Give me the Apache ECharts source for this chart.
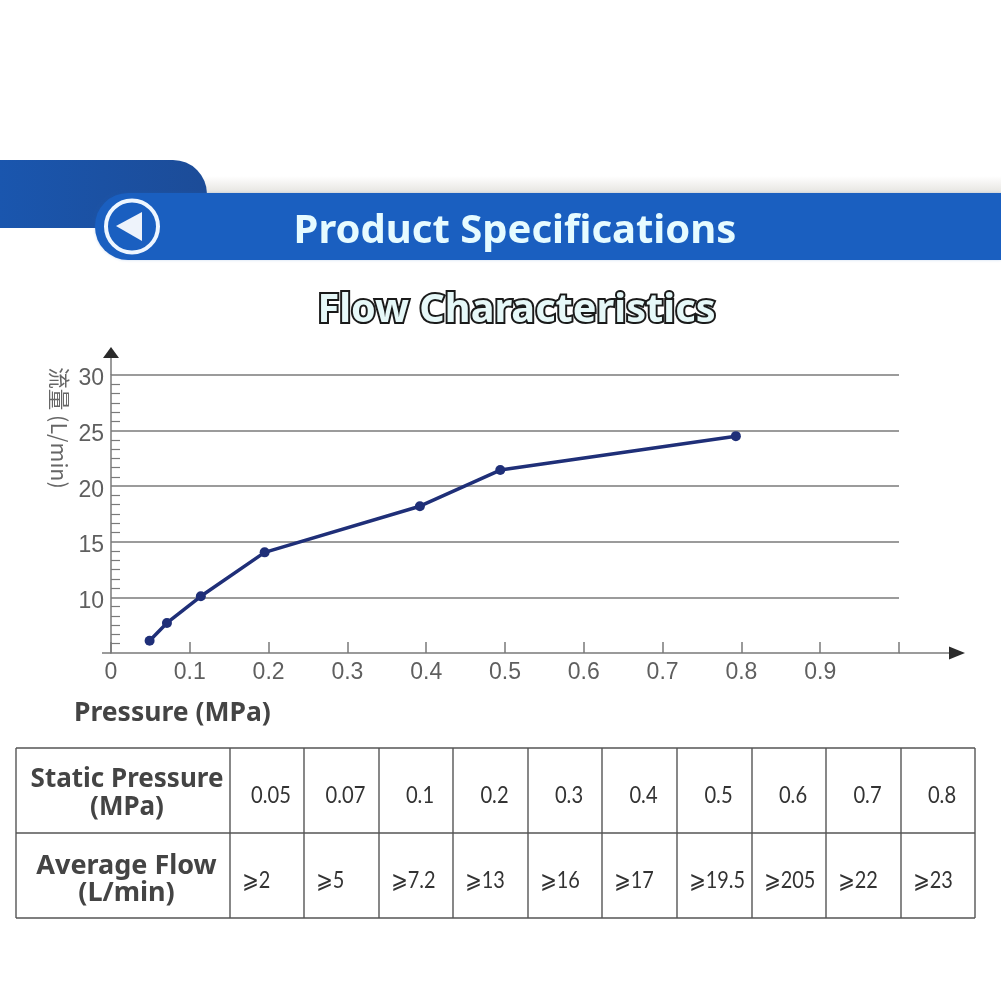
<!DOCTYPE html>
<html><head><meta charset="utf-8">
<style>html,body{margin:0;padding:0;background:#fff}#c{width:1001px;height:1001px}</style>
<script src="https://cdn.jsdelivr.net/npm/echarts@6/dist/echarts.min.js"></script>
</head><body><div id="c"></div>
<script>
const pressure = [0.049, 0.071, 0.114, 0.195, 0.392, 0.494, 0.793];
const flow = [6.1, 7.7, 10.1, 14.05, 18.2, 21.45, 24.5];
const xTickLabels = ['0','0.1','0.2','0.3','0.4','0.5','0.6','0.7','0.8','0.9',''];
const yTickLabels = ['','10','15','20','25','30'];
const staticPressure = ['0.05','0.07','0.1','0.2','0.3','0.4','0.5','0.6','0.7','0.8'];
const averageFlow = ['⩾2','⩾5','⩾7.2','⩾13','⩾16','⩾17','⩾19.5','⩾205','⩾22','⩾23'];
const rowTitles = [['Static Pressure','(MPa)'],['Average Flow','(L/min)']];

const BOLD = '"Noto Sans",sans-serif', CELL = 'Lato,"DejaVu Sans",sans-serif';
const gridC = '#7a7a7a', inkC = '#444', tblC = '#555';
const colX = [16,230,304,379,453,528,602,677,752,826,901,975], rowY = [748,833,918];
const g = [];
const line = (x1,y1,x2,y2,stroke,lineWidth)=>g.push({type:'line',shape:{x1,y1,x2,y2},style:{stroke,lineWidth}});
const txt = (x,y,text,font,fill,align='center',extra={},node={})=>g.push({type:'text',x,y,...node,style:{text,font,fill,align,verticalAlign:'middle',...extra}});

// banner
g.push({type:'rect',shape:{x:200,y:176,width:801,height:17},style:{fill:{type:'linear',x:0,y:0,x2:0,y2:1,colorStops:[{offset:0,color:'#ffffff'},{offset:1,color:'#e6e4e0'}]}}});
g.push({type:'rect',shape:{x:0,y:160,width:207,height:68,r:[0,34,0,0]},style:{fill:{type:'linear',x:0,y:0,x2:1,y2:0,colorStops:[{offset:0,color:'#1a56ae'},{offset:1,color:'#1c4c98'}]}}});
g.push({type:'rect',shape:{x:95,y:193,width:906,height:67,r:[33,0,0,33]},style:{fill:'#1a5fc0',shadowBlur:3,shadowColor:'rgba(26,95,192,0.25)'}});
g.push({type:'circle',shape:{cx:132,cy:226.5,r:26},style:{fill:'none',stroke:'#eef6ff',lineWidth:4}});
g.push({type:'polygon',shape:{points:[[116,226],[142,212],[142,241]]},style:{fill:'#eef3fb'}});
txt(515,232,'Product Specifications','700 40px '+BOLD,'#e6fbff');
txt(516.5,311,'Flow Characteristics','700 39.7px '+BOLD,'#e6f8f8','center',{stroke:'#1a1a1a',lineWidth:4,lineJoin:'round'});

// axis arrows and names
line(111,375,111,355,gridC,1.5);
g.push({type:'polygon',shape:{points:[[111,347],[103,358],[119,358]]},style:{fill:'#2a2a2a'}});
line(899,653,950,653,gridC,1.5);
line(102,653,111,653,gridC,1.5);
g.push({type:'polygon',shape:{points:[[965,653],[949,646.5],[949,659.5]]},style:{fill:'#2a2a2a'}});
g.push({type:'text',x:59,y:428,rotation:-Math.PI/2,style:{text:'流量 (L/min)',font:'400 21.5px "Noto Sans CJK SC",sans-serif',fill:'#666',align:'center',verticalAlign:'middle'}});
txt(74,713,'Pressure (MPa)','700 26.5px '+BOLD,inkC,'left');

// table
rowY.forEach(y=>line(colX[0],y,colX[colX.length-1],y,tblC,1.4));
colX.forEach(x=>line(x,rowY[0],x,rowY[2],tblC,1.4));
rowTitles.forEach((r,i)=>r.forEach((t,j)=>txt(i?126.5:127,[[780,808],[866,893]][i][j],t,'700 '+(i?27:26)+'px '+BOLD,inkC)));
staticPressure.forEach((t,i)=>txt((colX[i+1]+colX[i+2])/2+4,795,t,'400 24px '+CELL,'#333','center',{},{scaleX:.84}));
averageFlow.forEach((t,i)=>txt(colX[i+1]+12,880,t,'400 24px '+CELL,'#333','left',{},{scaleX:.83}));

const chart = echarts.init(document.getElementById('c'),null,{renderer:'canvas',width:1001,height:1001});
chart.setOption({
  animation:false,
  backgroundColor:'#fff',
  grid:{left:111,top:375,width:788,height:278,containLabel:false},
  xAxis:{type:'value',min:0,max:1,interval:0.1,
    axisLine:{lineStyle:{color:gridC,width:1.5}},
    axisTick:{inside:true,length:11,lineStyle:{color:gridC,width:1.5}},
    splitLine:{show:false},
    axisLabel:{margin:8,color:'#5f5f5f',fontFamily:'Liberation Sans',fontSize:23,
      formatter:(v)=>xTickLabels[Math.round(v*10)]}},
  yAxis:{type:'value',min:5,max:30,interval:5,
    axisLine:{show:true,lineStyle:{color:gridC,width:1.5}},
    axisTick:{show:false,inside:true},
    minorTick:{show:true,splitNumber:6,length:9,lineStyle:{color:gridC,width:1.2}},
    splitLine:{show:true,showMinLine:false,lineStyle:{color:gridC,width:1.6}},
    axisLabel:{margin:7,color:'#5f5f5f',fontFamily:'Liberation Sans',fontSize:23,verticalAlign:'top',lineHeight:8,
      formatter:(v)=>yTickLabels[Math.round((v-5)/5)]}},
  series:[{type:'line',data:pressure.map((x,i)=>[x,flow[i]]),symbol:'circle',symbolSize:10,
    lineStyle:{color:'#1f2f78',width:3.5},itemStyle:{color:'#1f2f78'},z:5}],
  graphic:{elements:g}
});
</script></body></html>
